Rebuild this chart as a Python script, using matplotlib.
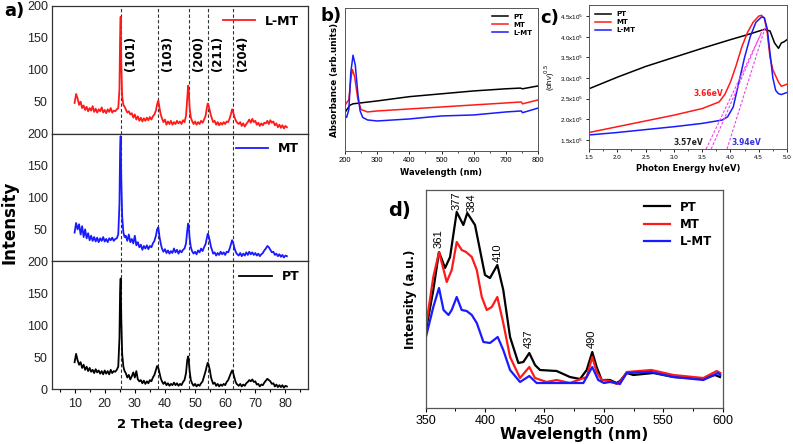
import matplotlib
matplotlib.use("Agg")
import matplotlib.pyplot as plt
from matplotlib.ticker import MultipleLocator, FixedLocator, FuncFormatter

# ---------------- a) XRD data ----------------
theta = [10.0, 10.5, 11.0, 11.5, 12.0, 12.5, 13.0, 13.5, 14.0, 14.5, 15.0, 15.5, 16.0, 16.5, 17.0,
         17.5, 18.0, 18.5, 19.0, 19.5, 20.0, 20.5, 21.0, 21.5, 22.0, 22.5, 23.0, 23.5, 24.0, 24.5,
         24.9, 25.1, 25.3, 25.5, 25.8,
         26.2, 26.6, 27.0, 27.5, 28.0, 28.5, 29.0, 29.5, 30.0, 30.5, 31.0, 31.5, 32.0, 32.5, 33.0,
         33.5, 34.0, 34.5, 35.0, 35.5, 36.0, 36.5,
         37.0, 37.4, 37.8, 38.2, 38.6,
         39.0, 39.5, 40.0, 40.5, 41.0, 41.5, 42.0, 42.5, 43.0, 43.5, 44.0, 44.5, 45.0, 45.5, 46.0,
         46.5, 47.0,
         47.4, 47.7, 47.9, 48.2, 48.6,
         49.0, 49.5, 50.0, 50.5, 51.0, 51.5, 52.0, 52.5, 53.0, 53.5,
         53.9, 54.2, 54.5, 54.9, 55.3,
         55.7, 56.0, 56.5, 57.0, 57.5, 58.0, 58.5, 59.0, 59.5, 60.0, 60.5, 61.0, 61.5,
         62.0, 62.3, 62.6, 63.0, 63.4,
         63.8, 64.5, 65.0, 65.5, 66.0, 66.5, 67.0, 67.5, 68.0, 68.5, 69.0, 69.5, 70.0, 70.5, 71.0,
         71.5, 72.0, 72.5, 73.0, 73.5, 74.0, 74.5, 75.0, 75.5, 76.0, 76.5, 77.0, 77.5, 78.0, 78.5,
         79.0, 79.5, 80.0, 80.5]

xrd_lmt = [48, 62, 55, 45, 50, 40, 44, 37, 42, 35, 40, 36, 43, 34, 39,
           33, 38, 35, 41, 33, 37, 32, 38, 34, 40, 33, 36, 35, 38, 40,
           70, 150, 183, 110, 58,
           45, 42, 38, 33, 35, 30, 32, 25, 30, 22, 27, 20, 25, 19, 24,
           20, 25, 21, 26, 22, 27, 30,
           36, 46, 52, 40, 30,
           24, 18, 22, 14, 19, 15, 20, 14, 18, 15, 20, 16, 19, 15, 21,
           18, 28,
           55, 75, 68, 40, 25,
           20, 15, 19, 14, 18, 15, 20, 17, 22, 28,
           40, 47, 44, 36, 28,
           22, 18, 20, 14, 18, 13, 17, 14, 18, 15, 19, 18, 24,
           32, 38, 35, 27, 22,
           18, 15, 18, 12, 16, 11, 15, 18, 22, 17, 23, 18, 20, 14, 17,
           12, 16, 13, 17, 16, 20, 15, 21, 17, 19, 13, 16, 10, 14, 9,
           13, 8, 12, 10]

xrd_mt = [45, 60, 50, 58, 42, 55, 38, 50, 36, 44, 33, 40, 32, 38, 31,
          37, 30, 36, 32, 38, 31, 35, 30, 36, 33, 37, 32, 35, 36, 42,
          90, 170, 196, 130, 70,
          45, 38, 40, 32, 42, 30, 35, 28, 40, 25, 30, 22, 26, 18, 24,
          20, 25, 19, 24, 22, 28, 32,
          40, 50, 53, 38, 28,
          20, 15, 19, 13, 17, 12, 16, 13, 20, 14, 18, 12, 17, 14, 18,
          20, 28,
          48, 59, 55, 36, 22,
          16, 12, 15, 11, 17, 14, 20, 16, 22, 27,
          36, 43, 40, 32, 22,
          17, 12, 14, 9, 13, 10, 15, 11, 14, 10, 15, 14, 20,
          28, 33, 30, 22, 16,
          12, 9, 13, 8, 12, 9, 14, 10, 15, 11, 14, 10, 13, 9, 12,
          8, 11, 13, 17, 20, 24, 22, 18, 14, 15, 10, 12, 8, 11, 7,
          10, 6, 9, 8]

xrd_pt = [42, 55, 45, 38, 42, 33, 38, 30, 35, 28, 33, 27, 30, 25, 31,
          26, 29, 24, 28, 23, 29, 24, 28, 23, 30, 25, 28, 27, 30, 35,
          80, 150, 173, 110, 55,
          35, 28, 25, 18, 22, 15, 20, 26, 18, 28, 15, 12, 14, 9, 13,
          8, 12, 9, 14, 12, 18, 22,
          30, 36, 33, 25, 17,
          12, 8, 11, 6, 9, 5, 8, 6, 10, 6, 9, 5, 8, 6, 11,
          14, 25,
          45, 51, 45, 28, 14,
          9, 5, 8, 4, 7, 5, 9, 12, 20, 28,
          36, 41, 38, 30, 18,
          12, 8, 10, 5, 8, 4, 7, 5, 8, 6, 11, 14, 20,
          26, 29, 26, 19, 12,
          8, 5, 8, 4, 7, 5, 9, 11, 14, 12, 15, 11, 12, 7, 8,
          4, 7, 6, 10, 13, 16, 14, 12, 8, 9, 4, 7, 3, 6, 3,
          6, 2, 5, 4]

hkl_pos = [25.3, 37.8, 47.9, 54.4, 62.5]
hkl_labels = ["(101)", "(103)", "(200)", "(211)", "(204)"]

# ---------------- b) UV-Vis absorbance ----------------
abs_pt_x = [200, 215, 225, 300, 400, 500, 600, 700, 745, 752, 800]
abs_pt_y = [0.27, 0.32, 0.33, 0.35, 0.38, 0.40, 0.42, 0.435, 0.44, 0.435, 0.455]
abs_mt_x = [200, 212, 218, 223, 230, 240, 250, 270, 300, 400, 500, 600, 700, 748, 752, 800]
abs_mt_y = [0.32, 0.36, 0.50, 0.57, 0.52, 0.36, 0.29, 0.273, 0.28, 0.294, 0.308, 0.322, 0.336,
            0.343, 0.33, 0.357]
abs_lmt_x = [200, 205, 212, 218, 225, 232, 240, 247, 255, 270, 300, 400, 450, 500, 600, 700,
             748, 752, 800]
abs_lmt_y = [0.25, 0.235, 0.29, 0.55, 0.67, 0.60, 0.40, 0.28, 0.235, 0.217, 0.21, 0.224, 0.235,
             0.245, 0.252, 0.273, 0.28, 0.268, 0.30]

# ---------------- c) Tauc plot ----------------
tauc_pt_x = [1.5, 2.0, 2.5, 3.0, 3.5, 4.0, 4.3, 4.6, 4.7, 4.78, 4.85, 4.9, 4.95, 5.0]
tauc_pt_y = [2.74, 3.02, 3.28, 3.5, 3.72, 3.93, 4.05, 4.18, 4.14, 3.85, 3.72, 3.85, 3.88, 3.93]
tauc_mt_x = [1.5, 2.0, 2.5, 3.0, 3.5, 3.8, 3.9, 4.0, 4.1, 4.2, 4.3, 4.4, 4.5, 4.55, 4.6, 4.65,
             4.7, 4.75, 4.8, 4.85, 4.9, 5.0]
tauc_mt_y = [1.68, 1.82, 1.96, 2.1, 2.26, 2.42, 2.6, 2.9, 3.3, 3.75, 4.1, 4.35, 4.5, 4.52, 4.45,
             4.1, 3.5, 3.2, 3.05, 2.9, 2.8, 2.85]
tauc_lmt_x = [1.5, 2.0, 2.5, 3.0, 3.5, 3.85, 3.95, 4.05, 4.15, 4.25, 4.35, 4.45, 4.55, 4.6, 4.65,
              4.7, 4.75, 4.8, 4.85, 4.9, 5.0]
tauc_lmt_y = [1.62, 1.68, 1.75, 1.82, 1.9, 1.98, 2.06, 2.3, 2.9, 3.5, 4.0, 4.35, 4.48, 4.46, 4.2,
              3.6, 3.0, 2.7, 2.62, 2.6, 2.65]
# tangent lines: (x at bottom, y at bottom) -> (x at top, y at top)
tan_x = [[3.57, 4.55], [3.66, 4.57], [3.94, 4.62]]
tan_y = [[1.28, 4.1], [1.28, 4.18], [1.28, 4.25]]

# ---------------- d) PL spectra ----------------
pl_pt_x = [350, 356.4, 361.2, 366.3, 370.5, 376.1, 381.7, 385, 391.5, 395.7, 399.9, 404.1, 410.3,
           415.3, 421, 428, 432.2, 437.2, 442, 446.2, 460.2, 471.4, 479.9, 485.5, 490.2, 493.9,
           498.1, 505.1, 510.7, 513.5, 519.2, 524.8, 541.6, 558.5, 583.7, 593.5, 597.7]
pl_pt_y = [76, 118, 156, 140, 151, 196, 183, 195, 183, 158, 133, 130, 143,
           118, 71, 45, 46, 55, 43, 38, 37, 31, 29, 38, 56, 41,
           28, 28, 25, 27, 35, 33, 35, 31, 29, 33, 31]
pl_mt_x = [350, 356.4, 361.2, 367.7, 371.9, 376.1, 380.3, 384, 388.8, 393, 397.2, 401.4, 405.6,
           410.3, 415.3, 421, 429.4, 437.2, 442, 451.8, 460.2, 471.4, 485.5, 490.2, 493.9, 498.1,
           505, 510.7, 513.5, 519.2, 540, 558.5, 583.7, 595, 598]
pl_mt_y = [80, 131, 156, 126, 138, 166, 158, 156, 151, 138, 111, 98, 101,
           111, 85, 51, 30, 41, 30, 26, 28, 25, 31, 51, 36, 28,
           27, 24, 26, 36, 38, 33, 30, 37, 35]
pl_lmt_x = [350, 356.4, 361.2, 365, 369.2, 371.9, 376.1, 380.3, 384.5, 388.8, 393, 398.6, 404.1,
            410.6, 415.3, 421, 429.4, 437.2, 443.4, 465.8, 482.7, 490.2, 495.2, 500, 505, 510,
            513.5, 519.2, 540, 558.5, 583.7, 596, 598]
pl_lmt_y = [70, 101, 120, 98, 93, 98, 111, 98, 97, 93, 85, 66, 65,
            71, 58, 38, 26, 32, 25, 25, 25, 41, 28, 25, 26, 25,
            24, 35, 36, 31, 28, 35, 33]
pl_peaks = [361, 377, 384, 410, 437, 490]
pl_label_x = [361, 376, 388.5, 411, 437, 490]
pl_peak_y = [160, 198, 196, 146, 60, 60]

RED = "#ff1a1a"
BLUE = "#1a1aff"
BLACK = "#000000"
BOLD = "DejaVu Sans"
TICKF = "Liberation Sans"

fig = plt.figure(figsize=(7.93, 4.44), dpi=100)

# ---------------- panel a ----------------
a_left, a_w, a_h = 52 / 793, 256 / 793, 127.7 / 444
a_bottom = 55 / 444
series_a = [(xrd_lmt, RED, "L-MT"), (xrd_mt, BLUE, "MT"), (xrd_pt, BLACK, "PT")]
axes_a = []
for i, (vals, col, lab) in enumerate(series_a):
    ax = fig.add_axes([a_left, a_bottom + (2 - i) * a_h, a_w, a_h])
    ax.plot(theta, vals, color=col, lw=1.3, label=lab)
    for p in hkl_pos:
        ax.axvline(p, color="#333333", lw=0.8, ls=(0, (3, 2)), zorder=0)
    ax.set_xlim(2.5, 87.5)
    ax.set_ylim(0, 200)
    if i < 2:
        ax.set_yticks([50, 100, 150, 200])
        ax.tick_params(axis="x", which="both", length=0, labelbottom=False)
    else:
        ax.set_yticks([0, 50, 100, 150, 200])
        ax.set_xticks([10, 20, 30, 40, 50, 60, 70, 80])
        ax.xaxis.set_minor_locator(MultipleLocator(5))
        ax.tick_params(axis="x", which="major", length=3, width=0.8)
        ax.tick_params(axis="x", which="minor", length=2, width=0.8)
    ax.tick_params(axis="y", length=0, pad=3)
    for t in ax.get_xticklabels() + ax.get_yticklabels():
        t.set_fontfamily(TICKF)
        t.set_fontsize(9)
        t.set_color("#222222")
    for s in ax.spines.values():
        s.set_color("#333333")
        s.set_linewidth(0.9)
    ax.legend(loc="upper right", frameon=False, handlelength=2.6, borderaxespad=0.3,
              prop={"family": BOLD, "weight": "bold", "size": 9})
    axes_a.append(ax)

for p, lab in zip(hkl_pos, hkl_labels):
    axes_a[0].text(p + 3.2, 125, lab, rotation=90, ha="center", va="center",
                   fontfamily=BOLD, fontweight="bold", fontsize=8.5)

axes_a[2].set_xlabel("2 Theta (degree)", fontfamily=BOLD, fontweight="bold", fontsize=9.5,
                     labelpad=6)
fig.text(0.012, 0.5, "Intensity", rotation=90, ha="center", va="center",
         fontfamily=BOLD, fontweight="bold", fontsize=12)
fig.text(0.005, 0.975, "a)", ha="left", va="center", fontfamily=BOLD, fontweight="bold",
         fontsize=13)

# ---------------- panel b ----------------
axb = fig.add_axes([345 / 793, (444 - 151) / 444, 193 / 793, 143 / 444])
axb.plot(abs_pt_x, abs_pt_y, color=BLACK, lw=1.1, label="PT")
axb.plot(abs_mt_x, abs_mt_y, color=RED, lw=1.1, label="MT")
axb.plot(abs_lmt_x, abs_lmt_y, color=BLUE, lw=1.1, label="L-MT")
axb.set_xlim(200, 800)
axb.set_ylim(0, 1)
axb.set_yticks([])
axb.xaxis.set_major_locator(MultipleLocator(100))
axb.xaxis.set_minor_locator(MultipleLocator(50))
axb.tick_params(axis="x", which="major", length=2, width=0.6, labelsize=5.5, pad=2)
axb.tick_params(axis="x", which="minor", length=1.2, width=0.5)
for t in axb.get_xticklabels():
    t.set_fontfamily(TICKF)
axb.set_xlabel("Wavelength (nm)", fontfamily=BOLD, fontweight="bold", fontsize=6, labelpad=3)
axb.set_ylabel("Absorbance (arb.units)", fontfamily=BOLD, fontweight="bold", fontsize=6.3,
               labelpad=4)
for s in axb.spines.values():
    s.set_color("#555555")
    s.set_linewidth(0.7)
axb.legend(loc="upper right", frameon=False, handlelength=2.2, labelspacing=0.3,
           borderaxespad=0.4, prop={"family": BOLD, "weight": "bold", "size": 5})
fig.text(320 / 793, 1 - 16 / 444, "b)", ha="left", va="center", fontfamily=BOLD,
         fontweight="bold", fontsize=13)

# ---------------- panel c ----------------
axc = fig.add_axes([589 / 793, (444 - 149) / 444, 198 / 793, 144 / 444])
axc.plot(tauc_pt_x, tauc_pt_y, color=BLACK, lw=1.1, label="PT")
axc.plot(tauc_mt_x, tauc_mt_y, color=RED, lw=1.1, label="MT")
axc.plot(tauc_lmt_x, tauc_lmt_y, color=BLUE, lw=1.1, label="L-MT")
for tx, ty in zip(tan_x, tan_y):
    axc.plot(tx, ty, color="#ee44ee", lw=0.8, ls=(0, (2.5, 1.5)))
axc.set_xlim(1.5, 5.0)
axc.set_ylim(1.28, 4.77)
axc.xaxis.set_major_locator(MultipleLocator(0.5))
axc.xaxis.set_minor_locator(MultipleLocator(0.25))
axc.yaxis.set_major_locator(FixedLocator([1.5, 2.0, 2.5, 3.0, 3.5, 4.0, 4.5]))
axc.yaxis.set_major_formatter(FuncFormatter(lambda v, pos: f"{v:.1f}x10$^{{5}}$"))
axc.tick_params(axis="both", which="major", length=2, width=0.6, labelsize=4.5, pad=2)
axc.tick_params(axis="x", which="minor", length=1.2, width=0.5)
for t in axc.get_xticklabels() + axc.get_yticklabels():
    t.set_fontfamily(TICKF)
axc.set_xlabel("Photon Energy h\u03bd(eV)", fontfamily=BOLD, fontweight="bold", fontsize=6,
               labelpad=3)
axc.set_ylabel("(\u03b1h\u03bd)$^{0.5}$", fontfamily=TICKF, fontsize=5.5, labelpad=2)
for s in axc.spines.values():
    s.set_color("#555555")
    s.set_linewidth(0.7)
axc.legend(loc="upper left", frameon=False, handlelength=2.2, labelspacing=0.3,
           borderaxespad=0.5, prop={"family": BOLD, "weight": "bold", "size": 5})
axc.text(3.87, 2.62, "3.66eV", color=RED, ha="right", va="center", fontfamily=BOLD,
         fontweight="bold", fontsize=5.5)
axc.text(3.52, 1.43, "3.57eV", color="#222222", ha="right", va="center", fontfamily=BOLD,
         fontweight="bold", fontsize=5.5)
axc.text(4.02, 1.43, "3.94eV", color="#3333dd", ha="left", va="center", fontfamily=BOLD,
         fontweight="bold", fontsize=5.5)
fig.text(540 / 793, 1 - 18 / 444, "c)", ha="left", va="center", fontfamily=BOLD,
         fontweight="bold", fontsize=13)

# ---------------- panel d ----------------
axd = fig.add_axes([425.7 / 793, 36 / 444, 297 / 793, 218 / 444])
axd.plot(pl_pt_x, pl_pt_y, color=BLACK, lw=1.6, label="PT")
axd.plot(pl_mt_x, pl_mt_y, color=RED, lw=1.6, label="MT")
axd.plot(pl_lmt_x, pl_lmt_y, color=BLUE, lw=1.6, label="L-MT")
for lx, py, pk in zip(pl_label_x, pl_peak_y, pl_peaks):
    axd.text(lx, py, str(pk), rotation=90, ha="center", va="bottom", fontfamily=TICKF,
             fontsize=8)
axd.set_xlim(350, 600)
axd.set_ylim(0, 218)
axd.set_yticks([])
axd.xaxis.set_major_locator(MultipleLocator(50))
axd.xaxis.set_minor_locator(MultipleLocator(25))
axd.tick_params(axis="x", which="major", length=3, width=0.8, labelsize=9, pad=2)
axd.tick_params(axis="x", which="minor", length=2, width=0.7)
for t in axd.get_xticklabels():
    t.set_fontfamily(TICKF)
axd.set_xlabel("Wavelength (nm)", fontfamily=BOLD, fontweight="bold", fontsize=11,
               labelpad=0)
axd.set_ylabel("Intensity (a.u.)", fontfamily=BOLD, fontweight="bold", fontsize=8.5,
               labelpad=6)
for s in axd.spines.values():
    s.set_color("#555555")
    s.set_linewidth(0.9)
axd.legend(loc="upper right", frameon=False, handlelength=2.2, labelspacing=0.35,
           borderaxespad=0.5, prop={"family": BOLD, "weight": "bold", "size": 8.5})
fig.text(388 / 793, 1 - 210 / 444, "d)", ha="left", va="center", fontfamily=BOLD,
         fontweight="bold", fontsize=14)

fig.savefig("out.png", dpi=100)
